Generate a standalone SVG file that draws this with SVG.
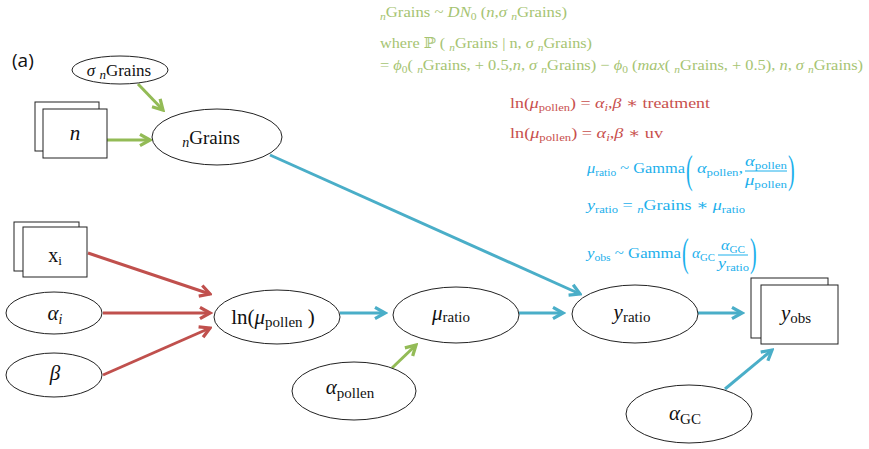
<svg xmlns="http://www.w3.org/2000/svg" width="869" height="449" viewBox="0 0 869 449">
<style>
.node{fill:#fff;stroke:#222;stroke-width:1}
.lbl{font-family:"Liberation Serif","DejaVu Serif",serif;fill:#111;text-anchor:middle}
.it{font-style:italic}
.eq{font-family:"Liberation Serif","DejaVu Serif",serif;font-size:15px}
.g{fill:#a6c472}
.r{fill:#c8504d}
.b{fill:#1cb0ec}
.s{font-size:10.5px}
.p{font-size:40px}
.cg{stroke:#93bb56;stroke-width:3;fill:none}
.cr{stroke:#c0504d;stroke-width:3;fill:none}
.cb{stroke:#4aaec8;stroke-width:3;fill:none}
</style>
<defs>
<marker id="ag" viewBox="0 0 12 12" refX="10" refY="6" markerWidth="15" markerHeight="15" markerUnits="userSpaceOnUse" orient="auto"><path d="M2,1.5 L10,6 L2,10.5" fill="none" stroke="#93bb56" stroke-width="2.6"/></marker>
<marker id="ar" viewBox="0 0 12 12" refX="10" refY="6" markerWidth="15" markerHeight="15" markerUnits="userSpaceOnUse" orient="auto"><path d="M2,1.5 L10,6 L2,10.5" fill="none" stroke="#c0504d" stroke-width="2.6"/></marker>
<marker id="ab" viewBox="0 0 12 12" refX="10" refY="6" markerWidth="15" markerHeight="15" markerUnits="userSpaceOnUse" orient="auto"><path d="M2,1.5 L10,6 L2,10.5" fill="none" stroke="#4aaec8" stroke-width="2.6"/></marker>
</defs>
<rect width="869" height="449" fill="#fff"/>
<text x="12" y="67" font-family="'Open Sans','Liberation Sans',sans-serif" font-size="19" fill="#111">(a)</text>

<g id="connectors">
<line class="cg" x1="138" y1="84" x2="163" y2="110" marker-end="url(#ag)"/>
<line class="cg" x1="107" y1="140" x2="150" y2="140" marker-end="url(#ag)"/>
<line class="cr" x1="88" y1="253" x2="210" y2="294" marker-end="url(#ar)"/>
<line class="cr" x1="103" y1="313" x2="210" y2="313" marker-end="url(#ar)"/>
<line class="cr" x1="103" y1="375" x2="210" y2="328" marker-end="url(#ar)"/>
<line class="cb" x1="340" y1="313" x2="385" y2="313" marker-end="url(#ab)"/>
<line class="cg" x1="392" y1="368" x2="416" y2="345" marker-end="url(#ag)"/>
<line class="cb" x1="519" y1="313" x2="563" y2="313" marker-end="url(#ab)"/>
<line class="cb" x1="270" y1="155" x2="580" y2="294" marker-end="url(#ab)"/>
<line class="cb" x1="698" y1="313" x2="742" y2="313" marker-end="url(#ab)"/>
<line class="cb" x1="725" y1="389" x2="772" y2="350" marker-end="url(#ab)"/>
</g>

<g id="sigma_nGrains">
<ellipse class="node" cx="120" cy="70" rx="48" ry="14"/>
<text class="lbl" x="119" y="76" font-size="17"><tspan class="it">σ </tspan><tspan class="it" font-size="13" dy="3">n</tspan><tspan dy="-3">Grains</tspan></text>
</g>
<g id="n">
<rect class="node" x="35" y="102" width="64" height="49"/>
<rect class="node" x="43" y="109" width="64" height="49"/>
<text class="lbl it" x="75" y="140" font-size="21">n</text>
</g>
<g id="nGrains">
<ellipse class="node" cx="217" cy="137" rx="65" ry="28"/>
<text class="lbl" x="211" y="144" font-size="19"><tspan class="it" font-size="14" dy="3">n</tspan><tspan dy="-3">Grains</tspan></text>
</g>
<g id="xi">
<rect class="node" x="14" y="222" width="65" height="49"/>
<rect class="node" x="23" y="227" width="64" height="50"/>
<text class="lbl" x="55" y="262" font-size="20">x<tspan font-size="13" dy="3">i</tspan></text>
</g>
<g id="alpha_i">
<ellipse class="node" cx="54" cy="313" rx="48" ry="21"/>
<text class="lbl it" x="55" y="320" font-size="21">α<tspan font-size="14" dy="4">i</tspan></text>
</g>
<g id="beta">
<ellipse class="node" cx="54" cy="375" rx="48" ry="22"/>
<text class="lbl it" x="55" y="380" font-size="21">β</text>
</g>
<g id="ln_mu_pollen">
<ellipse class="node" cx="277" cy="317" rx="63" ry="27"/>
<text class="lbl" x="273" y="324" font-size="21">ln(<tspan class="it">μ</tspan><tspan font-size="15" dy="3">pollen</tspan><tspan dy="-3"> )</tspan></text>
</g>
<g id="mu_ratio">
<ellipse class="node" cx="456" cy="315" rx="63" ry="28"/>
<text class="lbl" x="451" y="320" font-size="21"><tspan class="it">μ</tspan><tspan font-size="15" dy="2">ratio</tspan></text>
</g>
<g id="alpha_pollen">
<ellipse class="node" cx="354" cy="391" rx="62" ry="29"/>
<text class="lbl" x="350" y="394" font-size="21"><tspan class="it">α</tspan><tspan font-size="15" dy="4">pollen</tspan></text>
</g>
<g id="y_ratio">
<ellipse class="node" cx="635" cy="314" rx="63" ry="29"/>
<text class="lbl" x="632" y="319" font-size="21"><tspan class="it">y</tspan><tspan font-size="15" dy="3">ratio</tspan></text>
</g>
<g id="y_obs">
<rect class="node" x="751" y="278" width="77" height="60"/>
<rect class="node" x="761" y="285" width="77" height="59"/>
<text class="lbl" x="796" y="320" font-size="21"><tspan class="it">y</tspan><tspan font-size="15" dy="3">obs</tspan></text>
</g>
<g id="alpha_GC">
<ellipse class="node" cx="689" cy="414" rx="63" ry="29"/>
<text class="lbl" x="685" y="420" font-size="21"><tspan class="it">α</tspan><tspan font-size="15" dy="4">GC</tspan></text>
</g>

<g id="equations">
<text class="eq g" x="380" y="17" textLength="187" lengthAdjust="spacingAndGlyphs"><tspan class="s it" dy="3">n</tspan><tspan dy="-3">Grains ~ </tspan><tspan class="it">DN</tspan><tspan class="s" dy="3">0</tspan><tspan dy="-3"> (</tspan><tspan class="it">n</tspan>,<tspan class="it">σ </tspan><tspan class="s it" dy="3">n</tspan><tspan dy="-3">Grains)</tspan></text>
<text class="eq g" x="380" y="48" textLength="212" lengthAdjust="spacingAndGlyphs">where ℙ ( <tspan class="s it" dy="3">n</tspan><tspan dy="-3">Grains | n,  </tspan><tspan class="it">σ </tspan><tspan class="s it" dy="3">n</tspan><tspan dy="-3">Grains)</tspan></text>
<text class="eq g" x="380" y="70" textLength="483" lengthAdjust="spacingAndGlyphs">=  <tspan class="it">ϕ</tspan><tspan class="s" dy="3">0</tspan><tspan dy="-3">( </tspan><tspan class="s it" dy="3">n</tspan><tspan dy="-3">Grains, + 0.5,</tspan><tspan class="it">n</tspan>, <tspan class="it">σ </tspan><tspan class="s it" dy="3">n</tspan><tspan dy="-3">Grains) −  </tspan><tspan class="it">ϕ</tspan><tspan class="s" dy="3">0</tspan><tspan dy="-3"> (</tspan><tspan class="it">max</tspan>( <tspan class="s it" dy="3">n</tspan><tspan dy="-3">Grains, + 0.5), </tspan><tspan class="it">n</tspan>, <tspan class="it">σ </tspan><tspan class="s it" dy="3">n</tspan><tspan dy="-3">Grains)</tspan></text>

<text class="eq r" x="510" y="108" textLength="200" lengthAdjust="spacingAndGlyphs">ln(<tspan class="it">μ</tspan><tspan class="s" dy="3">pollen</tspan><tspan dy="-3">)  =  </tspan><tspan class="it">α</tspan><tspan class="s it" dy="3">i</tspan><tspan dy="-3">,</tspan><tspan class="it">β</tspan>  ∗ treatment</text>
<text class="eq r" x="510" y="138" textLength="153" lengthAdjust="spacingAndGlyphs">ln(<tspan class="it">μ</tspan><tspan class="s" dy="3">pollen</tspan><tspan dy="-3">)  =  </tspan><tspan class="it">α</tspan><tspan class="s it" dy="3">i</tspan><tspan dy="-3">,</tspan><tspan class="it">β</tspan>  ∗ uv</text>

<text class="eq b" x="587" y="173" textLength="98" lengthAdjust="spacingAndGlyphs"><tspan class="it">μ</tspan><tspan class="s" dy="3">ratio</tspan><tspan dy="-3"> ~ Gamma</tspan></text>
<text class="eq b p" transform="translate(686,183) scale(0.5,1)">(</text>
<text class="eq b" x="697" y="173" textLength="46" lengthAdjust="spacingAndGlyphs"><tspan class="it">α</tspan><tspan class="s" dy="3">pollen</tspan><tspan dy="-3">,</tspan></text>
<text class="eq b" x="745" y="166" textLength="42" lengthAdjust="spacingAndGlyphs"><tspan class="it">α</tspan><tspan class="s" dy="3">pollen</tspan></text>
<line x1="745" y1="171" x2="787" y2="171" stroke="#1cb0ec" stroke-width="1"/>
<text class="eq b" x="745" y="185" textLength="42" lengthAdjust="spacingAndGlyphs"><tspan class="it">μ</tspan><tspan class="s" dy="3">pollen</tspan></text>
<text class="eq b p" transform="translate(788,183) scale(0.5,1)">)</text>

<text class="eq b" x="587" y="210" textLength="158" lengthAdjust="spacingAndGlyphs"><tspan class="it">y</tspan><tspan class="s" dy="3">ratio</tspan><tspan dy="-3"> =  </tspan><tspan class="s it" dy="3">n</tspan><tspan dy="-3">Grains  ∗  </tspan><tspan class="it">μ</tspan><tspan class="s" dy="3">ratio</tspan></text>

<text class="eq b" x="587" y="258" textLength="94" lengthAdjust="spacingAndGlyphs"><tspan class="it">y</tspan><tspan class="s" dy="3">obs</tspan><tspan dy="-3"> ~ Gamma</tspan></text>
<text class="eq b p" transform="translate(682,266) scale(0.5,1)">(</text>
<text class="eq b" x="692" y="258" textLength="23" lengthAdjust="spacingAndGlyphs"><tspan class="it">α</tspan><tspan class="s" dy="3">GC</tspan></text>
<text class="eq b" x="721" y="250" textLength="24" lengthAdjust="spacingAndGlyphs"><tspan class="it">α</tspan><tspan class="s" dy="3">GC</tspan></text>
<line x1="718" y1="255" x2="748" y2="255" stroke="#1cb0ec" stroke-width="1"/>
<text class="eq b" x="718" y="268" textLength="31" lengthAdjust="spacingAndGlyphs"><tspan class="it">y</tspan><tspan class="s" dy="3">ratio</tspan></text>
<text class="eq b p" transform="translate(750,266) scale(0.5,1)">)</text>
</g>
</svg>
